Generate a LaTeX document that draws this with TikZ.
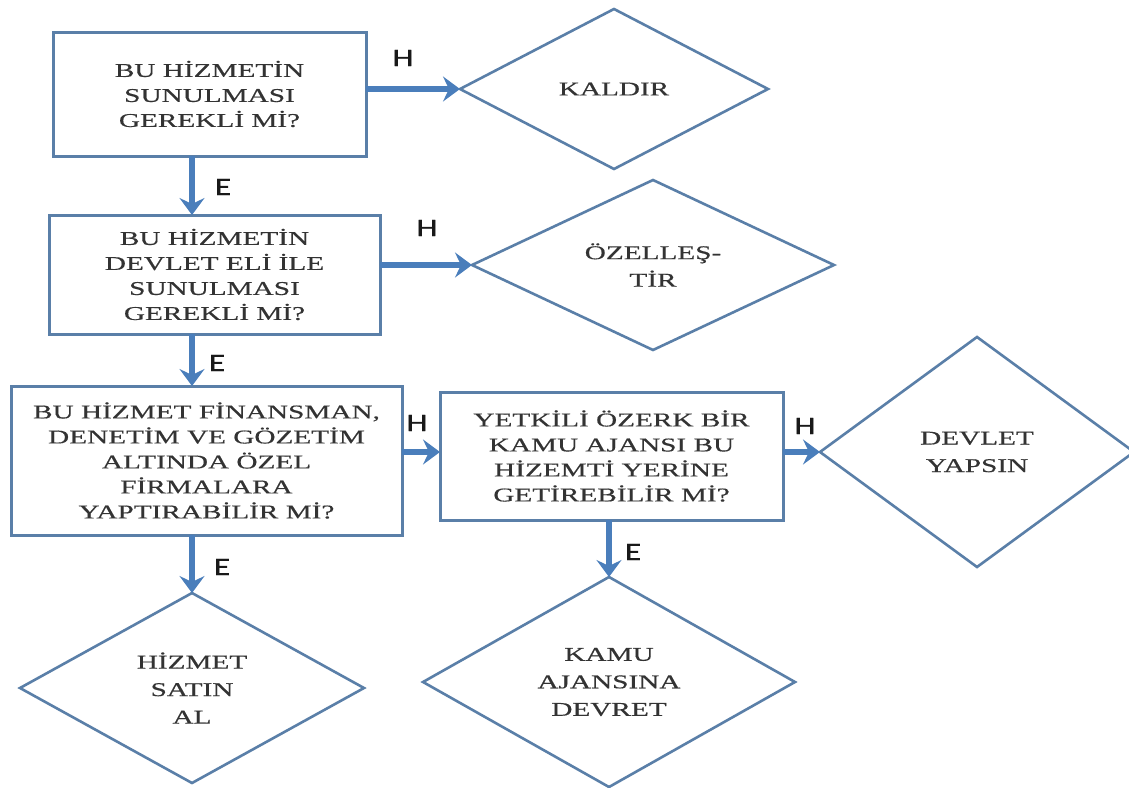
\documentclass[tikz,border=0pt]{standalone}
\usepackage{fontspec}
\setmainfont{Liberation Serif}[FakeStretch=1.5,FakeBold=0.5]
\newfontfamily\tagfont{Carlito}[FakeStretch=1.35,FakeBold=1.2]
\usetikzlibrary{shapes.geometric,arrows.meta}
\definecolor{boxline}{HTML}{5A7FA8}
\definecolor{flow}{HTML}{4A7EBB}
\definecolor{ink}{HTML}{333333}
\tikzset{
  query/.style={draw=boxline, line width=3pt, rectangle, inner sep=0pt, outer sep=0pt,
    align=center, text=ink, font=\fontsize{19.5}{25}\selectfont},
  outcome/.style={draw=boxline, line width=2.6pt, diamond, inner sep=0pt, outer sep=0pt,
    align=center, text=ink, font=\fontsize{19.5}{27.5}\selectfont},
  flowarrow/.style={draw=flow, line width=6pt, -{Stealth[length=17pt,width=25pt,inset=6pt]}},
  answer/.style={text=black!90, font=\tagfont\fontsize{25}{25}\selectfont, inner sep=0pt},
}
\begin{document}
\begin{tikzpicture}[x=1pt,y=-1pt]
\useasboundingbox (0,0) rectangle (1129,787);
\fill[white] (0,0) rectangle (1129,787);

% question boxes
\node[query, minimum width=313pt, minimum height=124pt] (q1) at (209.5,94)
  {BU HİZMETİN\\SUNULMASI\\GEREKLİ Mİ?};
\node[query, minimum width=331pt, minimum height=119pt] (q2) at (214.5,274.5)
  {BU HİZMETİN\\DEVLET ELİ İLE\\SUNULMASI\\GEREKLİ Mİ?};
\node[query, minimum width=391pt, minimum height=149pt] (q3) at (206.5,460.5)
  {BU HİZMET FİNANSMAN,\\DENETİM VE GÖZETİM\\ALTINDA ÖZEL\\FİRMALARA\\YAPTIRABİLİR Mİ?};
\node[query, minimum width=343pt, minimum height=128pt] (q4) at (611.5,456)
  {YETKİLİ ÖZERK BİR\\KAMU AJANSI BU\\HİZEMTİ YERİNE\\GETİREBİLİR Mİ?};

% outcome diamonds
\node[outcome, aspect=1.93, minimum width=308pt, minimum height=160pt] (kaldir) at (614,89) {KALDIR};
\node[outcome, aspect=2.13, minimum width=362pt, minimum height=170pt] (ozel) at (653,265) {ÖZELLEŞ-\\TİR};
\node[outcome, aspect=1.37, minimum width=314pt, minimum height=230pt] (devlet) at (977,452) {DEVLET\\YAPSIN};
\node[outcome, aspect=1.81, minimum width=344pt, minimum height=190pt] (satin) at (192,688) {HİZMET\\SATIN\\AL};
\node[outcome, aspect=1.77, minimum width=372pt, minimum height=210pt] (kamu) at (609,682) {KAMU\\AJANSINA\\DEVRET};

% connectors
\draw[flowarrow] (q1.east |- kaldir.west) -- (kaldir.west);
\draw[flowarrow] (q1.south -| satin.north) -- (q2.north -| satin.north);
\draw[flowarrow] (q2.east |- ozel.west) -- (ozel.west);
\draw[flowarrow] (q2.south -| satin.north) -- (q3.north -| satin.north);
\draw[flowarrow] (q3.east |- devlet.west) -- (q4.west |- devlet.west);
\draw[flowarrow] (q3.south -| satin.north) -- (satin.north);
\draw[flowarrow] (q4.east |- devlet.west) -- (devlet.west);
\draw[flowarrow] (q4.south -| kamu.north) -- (kamu.north);

% answer labels
\node[answer] (h1) at (403,58) {H};
\node[answer] (e1) at (223,187) {E};
\node[answer] (h2) at (427,228) {H};
\node[answer] (e2) at (217,363) {E};
\node[answer] (h3) at (417,423) {H};
\node[answer] (h4) at (805,426) {H};
\node[answer] (e3) at (222,567) {E};
\node[answer] (e4) at (633,552) {E};
\end{tikzpicture}
\end{document}
